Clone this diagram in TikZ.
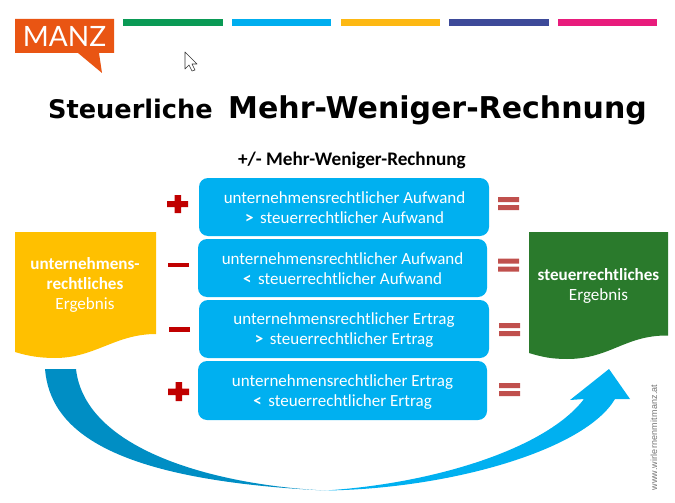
\documentclass[tikz,border=0pt]{standalone}
\usepackage{fontspec}
\setmainfont{Carlito}
\newfontfamily\titlefont{DejaVu Sans}
\newfontfamily\logofont{Lato}
\newfontfamily\webfont[LetterSpace=2]{Liberation Sans}
\definecolor{mblue}{HTML}{00B0F0}
\definecolor{mdark}{HTML}{008EC4}
\definecolor{myellow}{HTML}{FFC000}
\definecolor{mgreen}{HTML}{2A7A2C}
\definecolor{mred}{HTML}{C00000}
\definecolor{meq}{HTML}{C0504D}
\definecolor{morange}{HTML}{E95513}
\tikzset{
  calcbox/.style={fill=mblue,draw=none,rounded corners=9pt,minimum width=#1,minimum height=58pt,inner sep=0pt,align=center,text=white,font=\fontsize{17}{20}\selectfont},
  bartop/.style={draw=none,minimum height=7pt,minimum width=#1,inner sep=0pt},
  doclabel/.style={text=white,align=center,inner sep=0pt,font=\fontsize{17.1}{20}\selectfont},
  opbar/.style={fill=#1,draw=none},
}
\begin{document}
\begin{tikzpicture}[x=1pt,y=-1pt]
\useasboundingbox (0,0) rectangle (675,503);
% top bars
\node[bartop=100pt,fill={rgb,255:red,10;green,154;blue,85}] (b1) at (173,22.5) {};
\node[bartop=99pt,fill={rgb,255:red,0;green,174;blue,239}] (b2) at (281.5,22.5) {};
\node[bartop=99pt,fill={rgb,255:red,253;green,184;blue,19}] (b3) at (390.5,22.5) {};
\node[bartop=100pt,fill={rgb,255:red,61;green,74;blue,153}] (b4) at (499,22.5) {};
\node[bartop=99pt,fill={rgb,255:red,232;green,28;blue,124}] (b5) at (607.5,22.5) {};
% logo
\fill[morange] (15,19) -- (114,19) -- (114,53) -- (99,53) -- (102,73) -- (78,53) -- (15,53) -- cycle;
\node[text=white,inner sep=0pt,font=\logofont\fontsize{28}{28}\selectfont] (logo) at (64.5,36.5) {MANZ};
% cursor
\draw[fill=white,draw=black!80,line width=0.6pt,line join=round] (185,52) -- (185,69) -- (189,65) -- (192,71) -- (195,70) -- (192,64) -- (197,64) -- cycle;
% titles
\node[inner sep=0pt,anchor=base west,font=\titlefont\bfseries\fontsize{25.6}{28}\selectfont] (t1) at (48,118) {Steuerliche};
\node[inner sep=0pt,anchor=base west,font=\titlefont\bfseries\fontsize{30}{34}\selectfont] (t2) at (228,118) {Mehr-Weniger-Rechnung};
\node[inner sep=0pt,font=\bfseries\fontsize{19.2}{22}\selectfont] (t3) at (352,160) {+/- Mehr-Weniger-Rechnung};
% calc boxes
\node[calcbox=290pt] (c1) at (344,207) {};
\node[calcbox=289pt] (c2) at (342.5,268) {};
\node[calcbox=290pt] (c3) at (344,329) {};
\node[calcbox=289pt,minimum height=59pt] (c4) at (342.5,390.5) {};
\node[calcbox=1pt,fill=none] (c1t) at (344.5,208) {unternehmensrechtlicher Aufwand\\{\bfseries >}\, steuerrechtlicher Aufwand};
\node[calcbox=1pt,fill=none] (c2t) at (342.5,269) {unternehmensrechtlicher Aufwand\\{\bfseries <}\, steuerrechtlicher Aufwand};
\node[calcbox=1pt,fill=none] (c3t) at (344,330) {unternehmensrechtlicher Ertrag\\{\bfseries >}\, steuerrechtlicher Ertrag};
\node[calcbox=1pt,fill=none] (c4t) at (342.5,392) {unternehmensrechtlicher Ertrag\\{\bfseries <}\, steuerrechtlicher Ertrag};
% documents
\fill[myellow] (15,232) -- (156,232) -- (156,334) .. controls (115,334) and (95,358) .. (55,358) .. controls (40,358) and (28,356) .. (15,352) -- cycle;
\node[doclabel] (d1) at (85,285) {\textbf{unternehmens-}\\\textbf{rechtliches}\\Ergebnis};
\fill[mgreen] (529,232) -- (668,232) -- (668,335.5) .. controls (625,335) and (610,359) .. (567,359) .. controls (552,359) and (542,357) .. (529,353) -- cycle;
\node[doclabel] (d2) at (598.5,286) {\textbf{steuerrechtliches}\\Ergebnis};
% plus / minus
\fill[opbar=mred] (174.5,195) rectangle (181,213) (167,201) rectangle (188,207);
\fill[opbar=mred] (168,262.5) rectangle (189,267);
\fill[opbar=mred] (169,327) rectangle (190,331.5);
\fill[opbar=mred] (175.5,382) rectangle (182,401) (168,388.5) rectangle (189,395);
% equals
\fill[opbar=meq] (498,197) rectangle (519,202) (498,205) rectangle (519,210);
\fill[opbar=meq] (498,258.5) rectangle (519,263.5) (498,266.5) rectangle (519,271.5);
\fill[opbar=meq] (499,323) rectangle (520,328) (499,331) rectangle (520,336);
\fill[opbar=meq] (499,383) rectangle (520,388) (499,391) rectangle (520,396);
% big arrow
\fill[mdark] (45,369) .. controls (50,430) and (110,480) .. (325,490.5) .. controls (215,485) and (85,450) .. (76,369) -- cycle;
\fill[mblue] (325,490.5) .. controls (430,484) and (545,450) .. (584,399) -- (570,400) -- (609,369) -- (630,399) -- (615,399) .. controls (585,450) and (450,489) .. (325,490.5) -- cycle;
% watermark
\node[rotate=90,text=black!55,inner sep=0pt,font=\webfont\fontsize{9}{9}\selectfont] (web) at (654,437.5) {www.wirlernenmitmanz.at};
\end{tikzpicture}
\end{document}
